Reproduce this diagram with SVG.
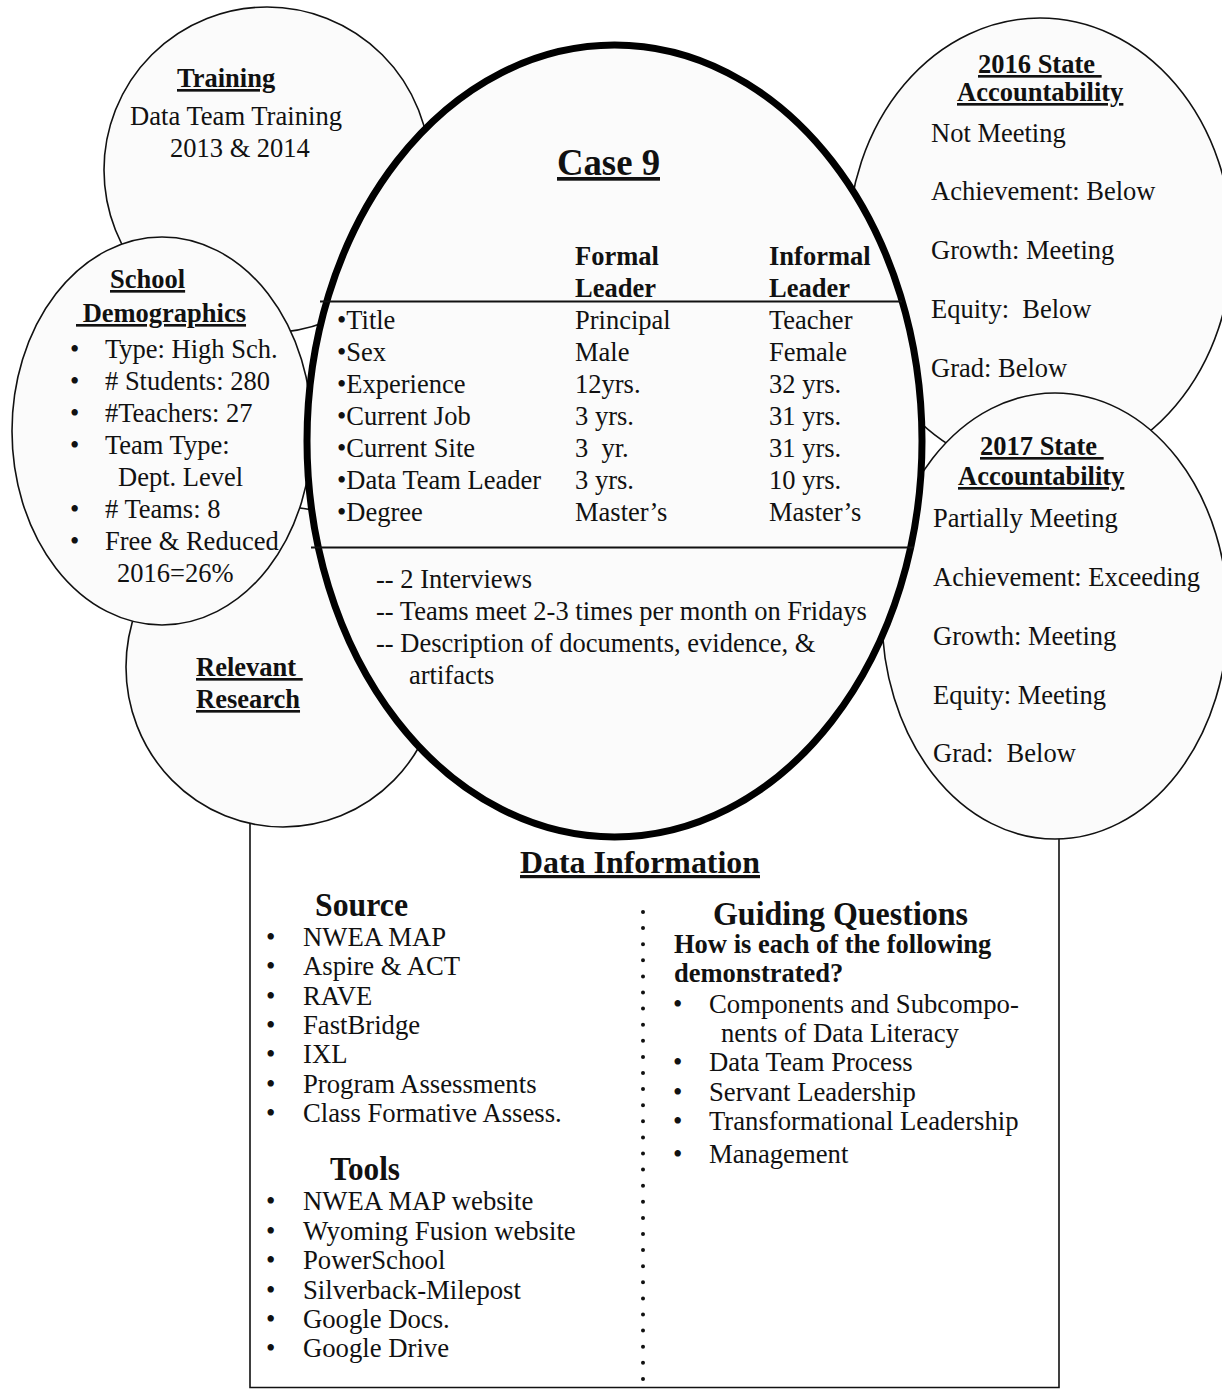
<svg xmlns="http://www.w3.org/2000/svg" width="1222" height="1389" viewBox="0 0 1222 1389">
<style>
text{font-family:'Liberation Serif','Times New Roman',serif;fill:#111;font-size:26.5px;white-space:pre}
.b{font-weight:bold}
.u{text-decoration:underline}
.s26{font-size:26.7px}
.h32{font-size:32px}
.h34{font-size:34px}
.h37{font-size:37px}
.shape{fill:#fbfbfb;stroke:#111;stroke-width:1.6}
.main{fill:#fbfbfb;stroke:#000;stroke-width:7}
.rule{stroke:#111;stroke-width:2.2}
.box{fill:none;stroke:#111;stroke-width:1.6}
</style>
<rect width="1222" height="1389" fill="#fff"/>

<g id="data-information">
  <path class="box" d="M250,800 V1387.5 H1059 V800"/>
  <line x1="643" y1="912" x2="643" y2="1384" stroke="#111" stroke-width="4" stroke-linecap="round" stroke-dasharray="0 16.1"/>
  <text class="b u h32" x="520" y="873" textLength="240" lengthAdjust="spacingAndGlyphs">Data Information</text>
  <text class="b h34" x="315" y="916" textLength="93" lengthAdjust="spacingAndGlyphs">Source</text>
  <text class="s26" x="266" y="946">•</text><text class="s26" x="303" y="946">NWEA MAP</text>
  <text class="s26" x="266" y="975">•</text><text class="s26" x="303" y="975">Aspire &amp; ACT</text>
  <text class="s26" x="266" y="1004.5">•</text><text class="s26" x="303" y="1004.5">RAVE</text>
  <text class="s26" x="266" y="1034">•</text><text class="s26" x="303" y="1034">FastBridge</text>
  <text class="s26" x="266" y="1063">•</text><text class="s26" x="303" y="1063">IXL</text>
  <text class="s26" x="266" y="1092.5">•</text><text class="s26" x="303" y="1092.5">Program Assessments</text>
  <text class="s26" x="266" y="1122">•</text><text class="s26" x="303" y="1122">Class Formative Assess.</text>
  <text class="b h34" x="330" y="1180" textLength="70" lengthAdjust="spacingAndGlyphs">Tools</text>
  <text class="s26" x="266" y="1210">•</text><text class="s26" x="303" y="1210">NWEA MAP website</text>
  <text class="s26" x="266" y="1239.5">•</text><text class="s26" x="303" y="1239.5">Wyoming Fusion website</text>
  <text class="s26" x="266" y="1269">•</text><text class="s26" x="303" y="1269">PowerSchool</text>
  <text class="s26" x="266" y="1298.5">•</text><text class="s26" x="303" y="1298.5">Silverback-Milepost</text>
  <text class="s26" x="266" y="1328">•</text><text class="s26" x="303" y="1328">Google Docs.</text>
  <text class="s26" x="266" y="1357">•</text><text class="s26" x="303" y="1357">Google Drive</text>

  <text class="b h34" x="713" y="925" textLength="255" lengthAdjust="spacingAndGlyphs">Guiding Questions</text>
  <text class="b" x="674" y="953">How is each of the following</text>
  <text class="b" x="674" y="982">demonstrated?</text>
  <text class="s26" x="673" y="1013">•</text><text class="s26" x="709" y="1013">Components and Subcompo-</text>
  <text class="s26" x="721" y="1042">nents of Data Literacy</text>
  <text class="s26" x="673" y="1071">•</text><text class="s26" x="709" y="1071">Data Team Process</text>
  <text class="s26" x="673" y="1100.5">•</text><text class="s26" x="709" y="1100.5">Servant Leadership</text>
  <text class="s26" x="673" y="1130">•</text><text class="s26" x="709" y="1130">Transformational Leadership</text>
  <text class="s26" x="673" y="1163">•</text><text class="s26" x="709" y="1163">Management</text>
</g>

<g id="training">
  <circle class="shape" cx="267" cy="170" r="163"/>
  <text class="b u" x="177" y="87">Training</text>
  <text x="130" y="125" textLength="212" lengthAdjust="spacingAndGlyphs">Data Team Training</text>
  <text x="170" y="157">2013 &amp; 2014</text>
</g>

<g id="relevant-research">
  <ellipse class="shape" cx="283" cy="667" rx="157" ry="160"/>
  <text class="b u" x="196" y="676">Relevant </text>
  <text class="b u" x="196" y="708">Research</text>
</g>

<g id="school-demographics">
  <ellipse class="shape" cx="162" cy="431" rx="150" ry="194"/>
  <text class="b u" x="110" y="288">School</text>
  <text class="b u" x="76" y="322"> Demographics</text>
  <text x="70" y="358">•</text><text x="105" y="358">Type: High Sch.</text>
  <text x="70" y="390">•</text><text x="105" y="390"># Students: 280</text>
  <text x="70" y="422">•</text><text x="105" y="422">#Teachers: 27</text>
  <text x="70" y="454">•</text><text x="105" y="454">Team Type:</text>
  <text x="118" y="486">Dept. Level</text>
  <text x="70" y="518">•</text><text x="105" y="518"># Teams: 8</text>
  <text x="70" y="550">•</text><text x="105" y="550">Free &amp; Reduced</text>
  <text x="117" y="582">2016=26%</text>
</g>

<g id="state-2016">
  <ellipse class="shape" cx="1040" cy="245" rx="192" ry="227"/>
  <text class="b u" x="978" y="73">2016 State </text>
  <text class="b u" x="957" y="101">Accountability</text>
  <text x="931" y="142">Not Meeting</text>
  <text x="931" y="200">Achievement: Below</text>
  <text x="931" y="259">Growth: Meeting</text>
  <text x="931" y="318">Equity:  Below</text>
  <text x="931" y="377">Grad: Below</text>
</g>

<g id="state-2017">
  <ellipse class="shape" cx="1055" cy="616" rx="173" ry="223"/>
  <text class="b u" x="980" y="455">2017 State </text>
  <text class="b u" x="958" y="485">Accountability</text>
  <text x="933" y="527">Partially Meeting</text>
  <text x="933" y="586">Achievement: Exceeding</text>
  <text x="933" y="645">Growth: Meeting</text>
  <text x="933" y="704">Equity: Meeting</text>
  <text x="933" y="762">Grad:  Below</text>
</g>

<g id="case-9">
  <ellipse class="main" cx="614.5" cy="441" rx="307.5" ry="396"/>
  <text class="b u h37" x="557" y="175" textLength="103" lengthAdjust="spacingAndGlyphs">Case 9</text>
  <text class="b" x="575" y="265">Formal</text>
  <text class="b" x="575" y="297">Leader</text>
  <text class="b" x="769" y="265">Informal</text>
  <text class="b" x="769" y="297">Leader</text>
  <line class="rule" x1="320" y1="301.5" x2="902" y2="301.5"/>
  <text x="337" y="328.5">•Title</text><text x="575" y="328.5">Principal</text><text x="769" y="328.5">Teacher</text>
  <text x="337" y="360.5">•Sex</text><text x="575" y="360.5">Male</text><text x="769" y="360.5">Female</text>
  <text x="337" y="392.5">•Experience</text><text x="575" y="392.5">12yrs.</text><text x="769" y="392.5">32 yrs.</text>
  <text x="337" y="424.5">•Current Job</text><text x="575" y="424.5">3 yrs.</text><text x="769" y="424.5">31 yrs.</text>
  <text x="337" y="456.5">•Current Site</text><text x="575" y="456.5">3  yr.</text><text x="769" y="456.5">31 yrs.</text>
  <text x="337" y="488.5">•Data Team Leader</text><text x="575" y="488.5">3 yrs.</text><text x="769" y="488.5">10 yrs.</text>
  <text x="337" y="520.5">•Degree</text><text x="575" y="520.5">Master’s</text><text x="769" y="520.5">Master’s</text>
  <line class="rule" x1="311" y1="547.5" x2="914" y2="547.5"/>
  <text x="376" y="588">-- 2 Interviews</text>
  <text x="376" y="620">-- Teams meet 2-3 times per month on Fridays</text>
  <text x="376" y="652">-- Description of documents, evidence, &amp;</text>
  <text x="409" y="684">artifacts</text>
</g>

<g id="connectors"></g>
</svg>
